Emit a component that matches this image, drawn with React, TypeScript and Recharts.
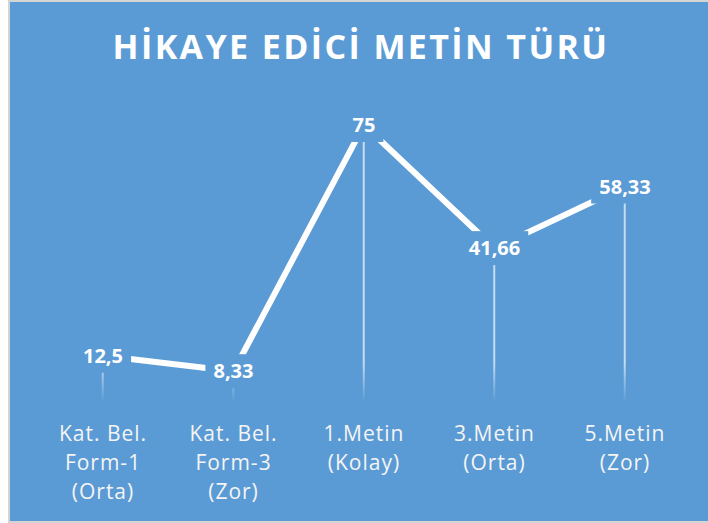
import React from 'react';
import { ComposedChart, Line, Bar, XAxis, YAxis, LabelList } from 'recharts';

// --- data ---
const categories = [
  'Kat. Bel.\nForm-1\n(Orta)',
  'Kat. Bel.\nForm-3\n(Zor)',
  '1.Metin\n(Kolay)',
  '3.Metin\n(Orta)',
  '5.Metin\n(Zor)',
];
const values = [12.5, 8.33, 75, 41.66, 58.33];
const valueLabels = ['12,5', '8,33', '75', '41,66', '58,33'];

const chartData = categories.map((name, i) => ({ name, value: values[i], label: valueLabels[i] }));

const BG = '#5B9BD5';
const FONT = '"Open Sans", "Noto Sans", sans-serif';

const CategoryTick = (props: any) => {
  const { x, y, payload } = props;
  const lines = String(payload.value).split('\n');
  return (
    <g transform={`translate(${x},${y})`}>
      {lines.map((ln, i) => (
        <text
          key={i}
          x={0}
          y={31 + i * 29}
          textAnchor="middle"
          fill="#f4f4f4"
          fontFamily={FONT}
          fontSize={21}
          letterSpacing={1}
        >
          {ln}
        </text>
      ))}
    </g>
  );
};

const ValueLabel = (props: any) => {
  const { x, y, value } = props;
  const txt = String(value);
  const w = txt.replace(',', '').length * 11.4 + (txt.includes(',') ? 6 : 0) + 16;
  return (
    <g>
      <rect x={x - w / 2} y={y - 17} width={w} height={34} fill={BG} />
      <text
        x={x}
        y={y + 7}
        textAnchor="middle"
        fill="#ffffff"
        fontFamily={FONT}
        fontWeight={700}
        fontSize={20}
      >
        {txt}
      </text>
    </g>
  );
};

export default function App() {
  return (
    <div style={{ position: 'absolute', left: 0, top: 0, width: 708, height: 523, background: '#fff', overflow: 'hidden' }}>
      <div
        style={{
          position: 'absolute',
          left: 8,
          top: 0,
          width: 702,
          height: 523,
          boxSizing: 'border-box',
          border: '2px solid #d4d4d4',
          background: BG,
        }}
      >
        <div
          style={{
            position: 'absolute',
            left: 2,
            top: 20,
            width: 698,
            textAlign: 'center',
            color: '#fff',
            fontFamily: FONT,
            fontWeight: 700,
            fontSize: 34,
            letterSpacing: 2.4,
            lineHeight: '48px',
            whiteSpace: 'nowrap',
          }}
        >
          HİKAYE EDİCİ METİN TÜRÜ
        </div>
        <ComposedChart
          width={698}
          height={519}
          data={chartData}
          margin={{ top: 104.5, right: 17.75, bottom: 0, left: 27.75 }}
        >
          <defs>
            <linearGradient id="dropFade" gradientUnits="userSpaceOnUse" x1="0" y1="360" x2="0" y2="400">
              <stop offset="0%" stopColor="#ffffff" stopOpacity={0.65} />
              <stop offset="100%" stopColor="#ffffff" stopOpacity={0} />
            </linearGradient>
          </defs>
          <XAxis
            dataKey="name"
            axisLine={false}
            tickLine={false}
            height={119}
            interval={0}
            tick={<CategoryTick />}
          />
          <YAxis hide domain={[0, 80]} />
          <Bar dataKey="value" barSize={2} fill="url(#dropFade)" isAnimationActive={false} />
          <Line
            type="linear"
            dataKey="value"
            stroke="#ffffff"
            strokeWidth={6}
            dot={false}
            activeDot={false}
            isAnimationActive={false}
          >
            <LabelList dataKey="label" content={<ValueLabel />} />
          </Line>
        </ComposedChart>
      </div>
    </div>
  );
}
